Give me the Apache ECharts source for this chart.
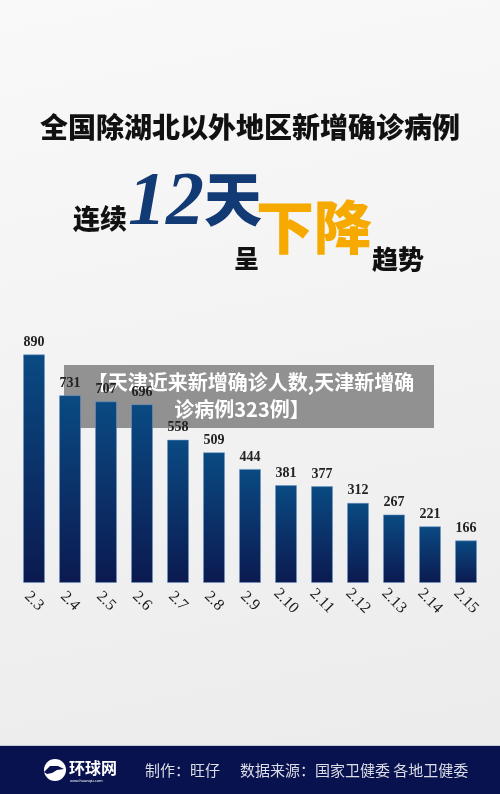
<!DOCTYPE html>
<html>
<head>
<meta charset="utf-8">
<script src="https://cdn.jsdelivr.net/npm/echarts@6/dist/echarts.min.js"></script>
<style>
html,body{margin:0;padding:0;width:500px;height:794px;overflow:hidden;}
#main{width:500px;height:794px;}
</style>
</head>
<body>
<div id="main"></div>
<script>
const categories = ['2.3','2.4','2.5','2.6','2.7','2.8','2.9','2.10','2.11','2.12','2.13','2.14','2.15'];
const newCases = [890, 731, 707, 696, 558, 509, 444, 381, 377, 312, 267, 221, 166];

const titleText = '全国除湖北以外地区新增确诊病例';
const overlayLine1 = '【天津近来新增确诊人数,天津新增确';
const overlayLine2 = '诊病例323例】';
const footerMaker = '制作：旺仔';
const footerSource = '数据来源：国家卫健委 各地卫健委';

const chart = echarts.init(document.getElementById('main'), null, {renderer: 'canvas'});
const cjk = '"Noto Sans CJK SC", sans-serif';
const serif = '"Liberation Serif", "DejaVu Serif", serif';

chart.setOption({
  backgroundColor: {
    type: 'linear', x: 0, y: 0, x2: 0.3, y2: 1,
    colorStops: [{offset: 0, color: '#f9f9f9'}, {offset: 1, color: '#ececec'}]
  },
  animation: false,
  grid: {left: 16, right: 16, top: 326, bottom: 211},
  xAxis: {
    type: 'category',
    data: categories,
    axisLine: {show: false},
    axisTick: {show: false},
    axisLabel: {
      rotate: -45, interval: 0, margin: 18,
      align: 'center', verticalAlign: 'middle',
      color: '#1a1a1a', fontFamily: serif, fontSize: 16
    }
  },
  yAxis: {
    type: 'value', min: 0, max: 1000, show: false,
    splitLine: {show: false}
  },
  series: [{
    type: 'bar',
    data: newCases,
    barWidth: 22,
    itemStyle: {
      color: {
        type: 'linear', x: 0, y: 0, x2: 0, y2: 1,
        colorStops: [{offset: 0, color: '#0a4a82'}, {offset: 1, color: '#0b1a50'}]
      },
      borderColor: 'rgba(110,150,200,0.55)',
      borderWidth: 1
    },
    label: {
      show: true, position: 'top', distance: 5,
      color: '#222', fontFamily: serif, fontWeight: 'bold', fontSize: 14
    }
  }],
  graphic: [
    {type: 'text', x: 250, y: 127, style: {
      text: titleText, font: '900 28px ' + cjk, fill: '#111', align: 'center', verticalAlign: 'middle'
    }},
    {type: 'text', x: 73, y: 205, style: {
      text: '连续', font: '900 27px ' + cjk, fill: '#111'
    }},
    {type: 'text', x: 128, y: 166, style: {
      text: '12', font: 'italic bold 76px ' + serif, fill: '#123a74'
    }},
    {type: 'text', x: 204, y: 170, style: {
      text: '天', font: '900 58px ' + cjk, fill: '#123a74'
    }},
    {type: 'text', x: 234, y: 246, style: {
      text: '呈', font: '900 25px ' + cjk, fill: '#111'
    }},
    {type: 'text', x: 256, y: 198, style: {
      text: '下降', font: '900 58px ' + cjk, fill: '#f6aa00'
    }},
    {type: 'text', x: 372, y: 246, style: {
      text: '趋势', font: '900 26px ' + cjk, fill: '#111'
    }},
    {type: 'rect', shape: {x: 64, y: 365, width: 370, height: 63}, style: {fill: 'rgba(128,128,128,0.85)'}},
    {type: 'text', x: 251, y: 382, style: {
      text: overlayLine1, font: 'bold 20px ' + cjk, fill: '#fff', align: 'center', verticalAlign: 'middle'
    }},
    {type: 'text', x: 242, y: 409, style: {
      text: overlayLine2, font: 'bold 20px ' + cjk, fill: '#fff', align: 'center', verticalAlign: 'middle'
    }},
    {type: 'rect', shape: {x: 0, y: 746, width: 500, height: 48}, style: {fill: '#07124e'}},
    {type: 'rect', shape: {x: 0, y: 745, width: 500, height: 1}, style: {fill: '#c5c9d6'}},
    {type: 'circle', shape: {cx: 55, cy: 770, r: 11}, style: {fill: '#fff'}},
    {type: 'polygon', shape: {points: [[44,772],[50,766],[58,766],[64,769],[57,770],[52,773],[47,774]]}, style: {fill: '#07124e'}},
    {type: 'text', x: 69, y: 768, style: {
      text: '环球网', font: 'bold 16px ' + cjk, fill: '#fff', verticalAlign: 'middle'
    }},
    {type: 'text', x: 70, y: 781, style: {
      text: 'www.huanqiu.com', font: '4px sans-serif', fill: '#fff', verticalAlign: 'middle'
    }},
    {type: 'text', x: 145, y: 770, style: {
      text: footerMaker, font: '15px ' + cjk, fill: '#dcdde6', verticalAlign: 'middle'
    }},
    {type: 'text', x: 240, y: 770, style: {
      text: footerSource, font: '15px ' + cjk, fill: '#dcdde6', verticalAlign: 'middle'
    }}
  ]
});
</script>
</body>
</html>
